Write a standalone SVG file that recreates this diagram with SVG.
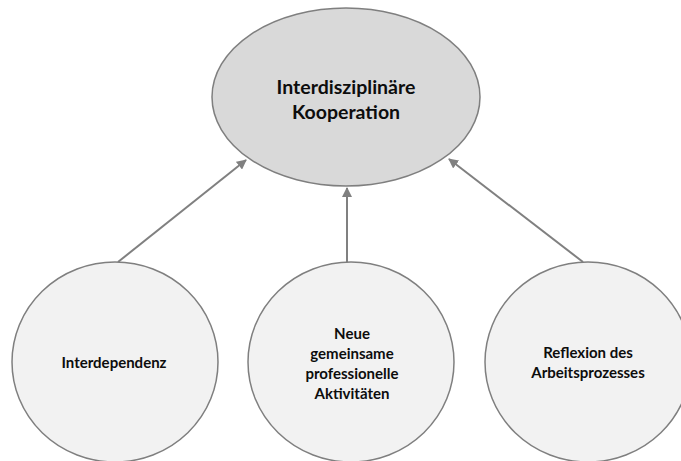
<svg xmlns="http://www.w3.org/2000/svg" width="681" height="461" viewBox="0 0 681 461">
<style>
.top{fill:#d9d9d9;stroke:#7f7f7f;stroke-width:1.5}
.sub{fill:#f2f2f2;stroke:#7f7f7f;stroke-width:1.5}
.conn{stroke:#808080;stroke-width:2;fill:none;marker-end:url(#ah)}
text{font-family:Lato,"Open Sans","Liberation Sans",sans-serif;font-weight:bold;fill:#0d0d0d;text-anchor:middle}
.t1{font-size:19.5px}
.t2{font-size:15px}
</style>
<defs>
<marker id="ah" markerWidth="10" markerHeight="10" refX="9" refY="5" orient="auto" markerUnits="userSpaceOnUse">
<path d="M0,0 L10,5 L0,10 z" fill="#808080"/>
</marker>
</defs>
<rect width="681" height="461" fill="#ffffff"/>
<g id="connectors">
<line class="conn" x1="118" y1="262" x2="246" y2="160"/>
<line class="conn" x1="347" y1="263" x2="347" y2="188"/>
<line class="conn" x1="583" y1="262" x2="449" y2="159"/>
</g>
<g id="node-kooperation">
<ellipse class="top" cx="346" cy="97" rx="134" ry="89"/>
<text class="t1" x="346" y="94">Interdisziplinäre</text>
<text class="t1" x="346" y="119">Kooperation</text>
</g>
<g id="node-interdependenz">
<ellipse class="sub" cx="115" cy="362" rx="103" ry="100"/>
<text class="t2" x="114" y="368">Interdependenz</text>
</g>
<g id="node-aktivitaeten">
<ellipse class="sub" cx="351" cy="362" rx="103" ry="100"/>
<text class="t2" x="352" y="339">Neue</text>
<text class="t2" x="352" y="359">gemeinsame</text>
<text class="t2" x="352" y="379">professionelle</text>
<text class="t2" x="352" y="399">Aktivitäten</text>
</g>
<g id="node-reflexion">
<ellipse class="sub" cx="588" cy="362" rx="103" ry="100"/>
<text class="t2" x="588" y="358">Reflexion des</text>
<text class="t2" x="588" y="378">Arbeitsprozesses</text>
</g>
</svg>
